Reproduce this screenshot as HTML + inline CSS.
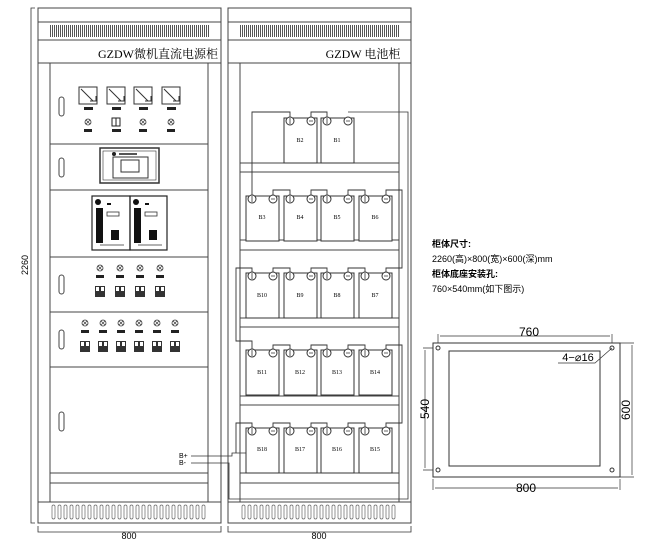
<!DOCTYPE html>
<html><head><meta charset="utf-8"><style>
html,body{margin:0;padding:0;background:#fff;}
svg{display:block;font-family:"Liberation Serif","Noto Serif CJK SC",serif;}
</style></head><body>
<svg width="646" height="547" viewBox="0 0 646 547" xmlns="http://www.w3.org/2000/svg">
<defs>
<pattern id="lv" width="2" height="10" patternUnits="userSpaceOnUse"><rect width="1" height="10" fill="#555"/></pattern>
<g id="vent"><rect x="0" y="0" width="3" height="14" rx="1.5" fill="none" stroke="#666" stroke-width="0.7"/></g>
<g id="ind"><circle cx="0" cy="0" r="3" fill="none" stroke="#333" stroke-width="0.8"/><path d="M-2,-2L2,2M2,-2L-2,2" stroke="#333" stroke-width="0.6"/><rect x="-4" y="7" width="8" height="3" fill="#222"/></g>
<g id="brk"><rect x="-5" y="0" width="10" height="11" fill="#333"/><rect x="-4" y="1" width="3" height="4" fill="#fff"/><rect x="1" y="1" width="3" height="4" fill="#fff"/></g>
<g id="bat" fill="none" stroke="#333" stroke-width="1"><rect x="0" y="0" width="33" height="45" fill="#fff"/><circle cx="6" cy="3" r="4" fill="#fff"/><circle cx="27" cy="3" r="4" fill="#fff"/><path d="M6,0v6M25,3h4" stroke-width="0.8"/></g>
<g id="cab" fill="none" stroke="#444" stroke-width="1">
<rect x="0" y="8" width="183" height="515"/>
<line x1="0" y1="22" x2="183" y2="22"/><line x1="0" y1="40" x2="183" y2="40"/><line x1="0" y1="63" x2="183" y2="63"/>
<rect x="12" y="25" width="160" height="12" fill="url(#lv)" stroke="none"/>
<line x1="0" y1="502" x2="183" y2="502"/>
</g>
</defs>

<!-- Left cabinet -->
<use href="#cab" x="38"/>
<g fill="none" stroke="#444" stroke-width="1">
<rect x="50" y="63" width="158" height="439"/>
<line x1="50" y1="144" x2="208" y2="144"/><line x1="50" y1="190" x2="208" y2="190"/>
<line x1="50" y1="257" x2="208" y2="257"/><line x1="50" y1="312" x2="208" y2="312"/>
<line x1="50" y1="367" x2="208" y2="367"/><line x1="50" y1="473" x2="208" y2="473"/>
<line x1="50" y1="483" x2="208" y2="483"/>
<rect x="59" y="97" width="5" height="19" rx="2.5"/><rect x="59" y="158" width="5" height="19" rx="2.5"/>
<rect x="59" y="275" width="5" height="19" rx="2.5"/><rect x="59" y="330" width="5" height="19" rx="2.5"/>
<rect x="59" y="412" width="5" height="19" rx="2.5"/>
</g>
<g text-anchor="middle" font-size="12"><text x="158" y="58">GZDW微机直流电源柜</text></g>
<!-- meters -->
<g fill="none" stroke="#333" stroke-width="1">
<rect x="79" y="87" width="18" height="17"/><path d="M81,89L93,101M90,101h6v-5" />
<rect x="107" y="87" width="18" height="17"/><path d="M109,89L121,101M118,101h6v-5"/>
<rect x="134" y="87" width="18" height="17"/><path d="M136,89L148,101M145,101h6v-5"/>
<rect x="162" y="87" width="18" height="17"/><path d="M164,89L176,101M173,101h6v-5"/>
</g>
<g fill="#222"><rect x="84" y="107" width="9" height="3"/><rect x="112" y="107" width="9" height="3"/><rect x="139" y="107" width="9" height="3"/><rect x="167" y="107" width="9" height="3"/></g>
<use href="#ind" x="88" y="122"/><use href="#ind" x="143" y="122"/><use href="#ind" x="171" y="122"/>
<g fill="none" stroke="#222"><rect x="112" y="118" width="8" height="8"/><line x1="116" y1="118" x2="116" y2="126"/></g><rect x="112" y="129" width="9" height="3" fill="#222"/>
<!-- display -->
<g fill="none" stroke="#333"><rect x="100" y="148" width="59" height="35" stroke-width="1.5"/><rect x="103" y="151" width="53" height="29" stroke-width="0.6"/>
<rect x="113" y="157" width="35" height="21"/><rect x="121" y="160" width="18" height="12"/></g>
<circle cx="114" cy="154" r="2" fill="#222"/><rect x="119" y="153" width="18" height="2" fill="#555"/>
<!-- modules -->
<g fill="none" stroke="#222" stroke-width="1.2"><rect x="92" y="196" width="38" height="54"/><rect x="130" y="196" width="37" height="54"/></g>
<g fill="#111"><rect x="96" y="208" width="7" height="35"/><rect x="111" y="230" width="8" height="10"/><rect x="134" y="208" width="7" height="35"/><rect x="149" y="230" width="8" height="10"/>
<circle cx="98" cy="202" r="3"/><circle cx="136" cy="202" r="3"/><rect x="107" y="203" width="4" height="2"/><rect x="145" y="203" width="4" height="2"/></g>
<g fill="none" stroke="#333" stroke-width="0.8"><rect x="107" y="212" width="12" height="4"/><rect x="145" y="212" width="12" height="4"/><line x1="100" y1="245" x2="124" y2="245"/><line x1="138" y1="245" x2="162" y2="245"/></g>
<!-- rows -->
<use href="#ind" x="100" y="268"/><use href="#ind" x="120" y="268"/><use href="#ind" x="140" y="268"/><use href="#ind" x="160" y="268"/>
<use href="#brk" x="100" y="286"/><use href="#brk" x="120" y="286"/><use href="#brk" x="140" y="286"/><use href="#brk" x="160" y="286"/>
<use href="#ind" x="85" y="323"/><use href="#ind" x="103" y="323"/><use href="#ind" x="121" y="323"/><use href="#ind" x="139" y="323"/><use href="#ind" x="157" y="323"/><use href="#ind" x="175" y="323"/>
<use href="#brk" x="85" y="341"/><use href="#brk" x="103" y="341"/><use href="#brk" x="121" y="341"/><use href="#brk" x="139" y="341"/><use href="#brk" x="157" y="341"/><use href="#brk" x="175" y="341"/>
<g font-size="7" font-family="Liberation Sans,sans-serif"><text x="179" y="458">B+</text><text x="179" y="465">B-</text></g>
<g fill="none" stroke="#333" stroke-width="0.8"><path d="M191,456H232V453H246V432"/><path d="M191,463H229V499H408V112H348"/></g>
<!-- vents -->
<g id="vents">
<use href="#vent" x="52" y="505"/><use href="#vent" x="58" y="505"/><use href="#vent" x="64" y="505"/><use href="#vent" x="70" y="505"/><use href="#vent" x="76" y="505"/><use href="#vent" x="82" y="505"/><use href="#vent" x="88" y="505"/><use href="#vent" x="94" y="505"/><use href="#vent" x="100" y="505"/><use href="#vent" x="106" y="505"/><use href="#vent" x="112" y="505"/><use href="#vent" x="118" y="505"/><use href="#vent" x="124" y="505"/><use href="#vent" x="130" y="505"/><use href="#vent" x="136" y="505"/><use href="#vent" x="142" y="505"/><use href="#vent" x="148" y="505"/><use href="#vent" x="154" y="505"/><use href="#vent" x="160" y="505"/><use href="#vent" x="166" y="505"/><use href="#vent" x="172" y="505"/><use href="#vent" x="178" y="505"/><use href="#vent" x="184" y="505"/><use href="#vent" x="190" y="505"/><use href="#vent" x="196" y="505"/><use href="#vent" x="202" y="505"/>
</g>
<use href="#vents" x="190"/>
<!-- left dims -->
<g fill="none" stroke="#333" stroke-width="0.8"><path d="M35,8H31V523H35"/><path d="M38,526V532H221V526"/><path d="M228,526V532H411V526"/></g>
<g font-size="9" font-family="Liberation Sans,sans-serif" text-anchor="middle"><text x="129" y="539">800</text><text x="319" y="539">800</text>
<text transform="translate(28,265) rotate(-90)">2260</text></g>

<!-- Right cabinet -->
<use href="#cab" x="228"/>
<g fill="none" stroke="#444" stroke-width="1">
<line x1="240" y1="63" x2="240" y2="502"/><line x1="399" y1="63" x2="399" y2="502"/>
<rect x="240" y="163" width="159" height="9"/><rect x="240" y="240" width="159" height="10"/>
<rect x="240" y="318" width="159" height="9"/><rect x="240" y="396" width="159" height="9"/>
<rect x="240" y="473" width="159" height="10"/>
</g>
<text x="363" y="58" font-size="12" text-anchor="middle">GZDW 电池柜</text>
<!-- wiring -->
<g fill="none" stroke="#333" stroke-width="0.9">
<path d="M290,118V112H252V196"/><path d="M311,118V112H327V118"/>
<path d="M273,196V190H290V196M311,196V190H327V196M348,196V190H365V196M386,196V190H402V268H386V273"/>
<path d="M252,273V268H236V341H252V350"/>
<path d="M273,273V268H290V273M311,273V268H327V273M348,273V268H365V273"/>
<path d="M273,350V345H290V350M311,350V345H327V350M348,350V345H365V350M386,350V345H402V423H386V428"/>
<path d="M252,428V423H236V453"/>
<path d="M273,428V423H290V428M311,428V423H327V428M348,428V423H365V428"/>
</g>
<g>
<use href="#bat" x="284" y="118"/><use href="#bat" x="321" y="118"/>
<use href="#bat" x="246" y="196"/><use href="#bat" x="284" y="196"/><use href="#bat" x="321" y="196"/><use href="#bat" x="359" y="196"/>
<use href="#bat" x="246" y="273"/><use href="#bat" x="284" y="273"/><use href="#bat" x="321" y="273"/><use href="#bat" x="359" y="273"/>
<use href="#bat" x="246" y="350"/><use href="#bat" x="284" y="350"/><use href="#bat" x="321" y="350"/><use href="#bat" x="359" y="350"/>
<use href="#bat" x="246" y="428"/><use href="#bat" x="284" y="428"/><use href="#bat" x="321" y="428"/><use href="#bat" x="359" y="428"/>
</g>
<g font-size="6" text-anchor="middle">
<text x="300" y="142">B2</text><text x="337" y="142">B1</text>
<text x="262" y="219">B3</text><text x="300" y="219">B4</text><text x="337" y="219">B5</text><text x="375" y="219">B6</text>
<text x="262" y="297">B10</text><text x="300" y="297">B9</text><text x="337" y="297">B8</text><text x="375" y="297">B7</text>
<text x="262" y="374">B11</text><text x="300" y="374">B12</text><text x="337" y="374">B13</text><text x="375" y="374">B14</text>
<text x="262" y="451">B18</text><text x="300" y="451">B17</text><text x="337" y="451">B16</text><text x="375" y="451">B15</text>
</g>

<!-- notes -->
<g font-size="9" font-family="Liberation Sans,'Noto Sans CJK SC',sans-serif">
<text x="432" y="247" font-weight="bold">柜体尺寸:</text>
<text x="432" y="262">2260(高)×800(宽)×600(深)mm</text>
<text x="432" y="277" font-weight="bold">柜体底座安装孔:</text>
<text x="432" y="292">760×540mm(如下图示)</text>
</g>
<!-- plan -->
<g fill="none" stroke="#333" stroke-width="1">
<rect x="433" y="343" width="187" height="134"/>
<rect x="449" y="351" width="151" height="115"/>
<circle cx="438" cy="348" r="2"/><circle cx="612" cy="348" r="2"/><circle cx="438" cy="470" r="2"/><circle cx="612" cy="470" r="2"/>
<g stroke-width="0.7">
<path d="M438,343V334M612,343V334M440,336H610"/>
<path d="M433,479V490M620,479V490M435,488H618"/>
<path d="M433,348H423M433,470H423M425,350V468"/>
<path d="M620,343H634M620,477H634M632,345V475"/>
<path d="M558,363H595L612,348"/>
</g></g>
<g font-family="Liberation Sans,sans-serif" text-anchor="middle" font-size="12">
<text x="529" y="336">760</text><text x="526" y="492">800</text>
<text x="578" y="361" font-size="11">4−⌀16</text>
<text transform="translate(429,409) rotate(-90)">540</text>
<text transform="translate(630,410) rotate(-90)">600</text>
</g>
</svg>
</body></html>
